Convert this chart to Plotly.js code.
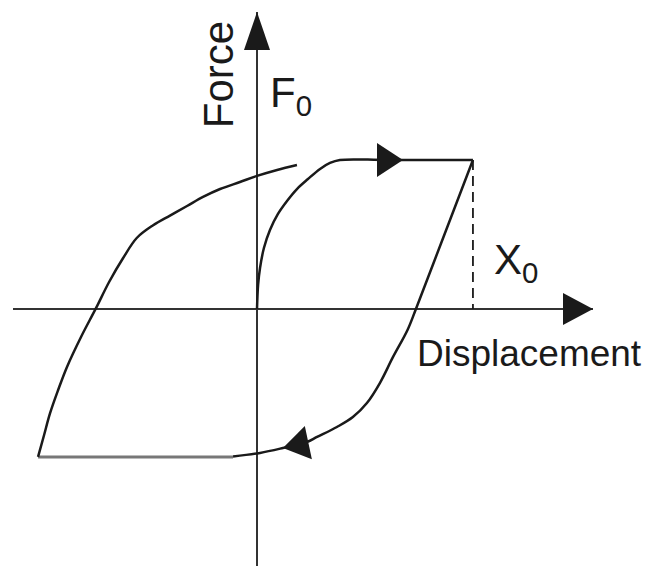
<!DOCTYPE html>
<html>
<head>
<meta charset="utf-8">
<script src="https://cdn.plot.ly/plotly-3.0.1.min.js"></script>
<style>
  html, body { margin: 0; padding: 0; background: #fff; }
  #chart { width: 646px; height: 566px; }
</style>
</head>
<body>
<div id="chart"></div>
<script>
// displacement in units of X0, force in units of F0
const xRange = [-1.13, 1.556]
const yRange = [-1.725, 1.993]

// first loading from the origin up to the plateau at F0
const loadX = [0, 0.005, 0.014, 0.032, 0.060, 0.097, 0.139, 0.185, 0.236, 0.292, 0.338, 0.384, 0.6, 1.0]
const loadY = [0, 0.161, 0.275, 0.409, 0.530, 0.638, 0.725, 0.805, 0.872, 0.940, 0.980, 1.0, 1.0, 1.0]

// unloading from (X0, F0) down to the negative plateau
const unloadX = [1.0, 0.868, 0.736, 0.697, 0.630, 0.569, 0.509, 0.444, 0.370, 0.278, 0.231, 0.120, 0.014, -0.111]
const unloadY = [1.0, 0.5, 0, -0.141, -0.322, -0.497, -0.631, -0.725, -0.792, -0.859, -0.893, -0.933, -0.966, -0.990]

// negative plateau (lighter in the print)
const plateauX = [-0.111, -1.014]
const plateauY = [-0.993, -0.993]

// reloading branch from the bottom-left corner
const reloadX = [-1.014, -0.986, -0.958, -0.921, -0.880, -0.815, -0.745, -0.685, -0.620, -0.556, -0.481, -0.403, -0.324, -0.250, -0.171, -0.079, 0, 0.093, 0.185]
const reloadY = [-0.993, -0.846, -0.698, -0.544, -0.389, -0.188, 0.007, 0.181, 0.342, 0.478, 0.562, 0.627, 0.691, 0.752, 0.805, 0.852, 0.893, 0.933, 0.966]

// direction arrows on the loop (tip position, heading in degrees clockwise from up)
const arrowX = [0.676, 0.120]
const arrowY = [1.0, -0.933]
const arrowAngle = [90, 258]

// amplitude marker X0
const dashX = [1.0, 1.0]
const dashY = [1.0, 0]

const ink = '#1a1a1a'
const W = 646, H = 566
const margin = { l: 13, r: 53, t: 12, b: 0 }
const pxPerX = (W - margin.l - margin.r) / (xRange[1] - xRange[0])
const pxPerY = (H - margin.t - margin.b) / (yRange[1] - yRange[0])

// filled arrowhead: tip at (tx, ty), len / half width in px
function head(tx, ty, angle, len, half) {
  let a = angle * Math.PI / 180
  let ux = Math.sin(a), uy = -Math.cos(a)
  let bx = -ux * len, by = -uy * len
  let px = -uy * half, py = ux * half
  let sx = [0, bx + px, bx - px, 0]
  let sy = [0, by + py, by - py, 0]
  return {
    x: sx.map(v => tx + v / pxPerX),
    y: sy.map(v => ty - v / pxPerY),
    mode: 'lines', fill: 'toself', fillcolor: ink,
    line: { width: 0, color: ink }, cliponaxis: false, hoverinfo: 'skip'
  }
}

const curve = { color: ink, width: 2.5, shape: 'spline', smoothing: 1 }

const traces = [
  { x: loadX, y: loadY, mode: 'lines', line: curve },
  { x: unloadX, y: unloadY, mode: 'lines', line: curve },
  { x: plateauX, y: plateauY, mode: 'lines', line: { color: '#777', width: 3 } },
  { x: reloadX, y: reloadY, mode: 'lines', line: curve },
  { x: dashX, y: dashY, mode: 'lines', line: { color: ink, width: 1.8, dash: '10px,6px' } },
  head(arrowX[0], arrowY[0], arrowAngle[0], 26, 17),
  head(arrowX[1], arrowY[1], arrowAngle[1], 26, 17),
  head(0, yRange[1], 0, 38, 13),
  head(xRange[1], 0, 90, 30, 16)
]

const labelFont = { family: 'Liberation Sans, Arial, sans-serif', size: 42, color: ink }

const layout = {
  width: W,
  height: H,
  margin: margin,
  showlegend: false,
  paper_bgcolor: '#fff',
  plot_bgcolor: '#fff',
  xaxis: {
    range: xRange, showgrid: false, showticklabels: false, ticks: '', showline: false,
    zeroline: true, zerolinecolor: '#333', zerolinewidth: 2
  },
  yaxis: {
    range: yRange, showgrid: false, showticklabels: false, ticks: '', showline: false,
    zeroline: true, zerolinecolor: '#333', zerolinewidth: 2
  },
  annotations: [
    { text: 'Force', x: -0.18, y: 1.57, xref: 'x', yref: 'y', textangle: -90, showarrow: false, font: labelFont },
    { text: 'F<sub>0</sub>', x: 0.05, y: 1.43, xref: 'x', yref: 'y', xanchor: 'left', showarrow: false, font: labelFont },
    { text: 'X<sub>0</sub>', x: 1.09, y: 0.31, xref: 'x', yref: 'y', xanchor: 'left', showarrow: false, font: labelFont },
    { text: 'Displacement', x: 0.73, y: -0.3, xref: 'x', yref: 'y', xanchor: 'left', showarrow: false, font: Object.assign({}, labelFont, { size: 37 }) }
  ]
}

Plotly.newPlot('chart', traces, layout, { staticPlot: true, displayModeBar: false })
</script>
</body>
</html>
